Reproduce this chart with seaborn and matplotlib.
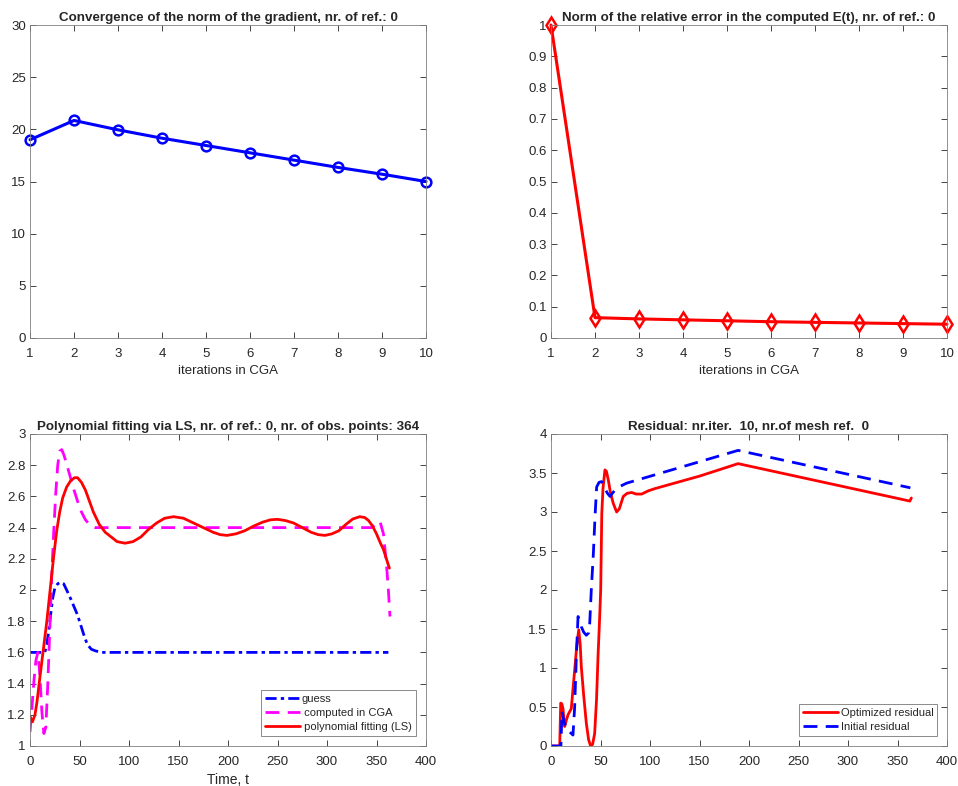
import matplotlib
matplotlib.use("Agg")
import matplotlib.pyplot as plt
import seaborn as sns
from matplotlib.ticker import FormatStrFormatter

# ---------------- data ----------------
iterations = [1, 2, 3, 4, 5, 6, 7, 8, 9, 10]
grad_norm = [19.0, 20.85, 19.95, 19.15, 18.45, 17.75, 17.05, 16.35, 15.7, 15.0]
rel_error = [1.0, 0.065, 0.061, 0.058, 0.055, 0.052, 0.050, 0.048, 0.046, 0.044]

t_guess = [0, 15, 17, 19, 21, 23, 25, 28, 31, 34, 37, 40, 44, 48, 52, 55, 58, 62, 66, 72, 362]
e_guess = [1.6, 1.6, 1.65, 1.74, 1.85, 1.95, 2.01, 2.04, 2.05, 2.04, 2.00, 1.96, 1.90, 1.84,
           1.76, 1.70, 1.65, 1.62, 1.61, 1.60, 1.60]

t_cga = [0, 2, 4, 6, 8, 10, 12, 14, 16, 18, 20, 22, 24, 26, 28, 30, 32, 34, 36, 40, 44, 48,
         52, 56, 60, 66, 100, 150, 200, 250, 300, 345, 350, 353.5, 357, 360, 362, 363.6]
e_cga = [1.09, 1.25, 1.42, 1.55, 1.60, 1.45, 1.22, 1.08, 1.12, 1.40, 1.75, 2.10, 2.38, 2.62,
         2.80, 2.89, 2.90, 2.87, 2.83, 2.74, 2.65, 2.57, 2.50, 2.45, 2.42, 2.40, 2.40, 2.40,
         2.40, 2.40, 2.40, 2.40, 2.42, 2.44, 2.36, 2.17, 2.00, 1.83]

t_fit = [0, 2.5, 5, 7, 10, 13.5, 17, 20, 24, 27, 30, 33, 37, 41, 45, 48, 52, 56, 60, 64, 70,
         76, 82, 88, 96, 104, 112, 120, 128, 136, 145, 155, 165, 175, 185, 192, 199, 208, 217,
         226, 235, 243, 250, 258, 266, 275, 284, 291, 298, 305, 312, 319, 326, 333, 338, 342,
         346, 350, 354, 357, 360, 363]
e_fit = [1.19, 1.155, 1.20, 1.28, 1.44, 1.62, 1.80, 1.98, 2.22, 2.38, 2.50, 2.59, 2.66, 2.70,
         2.72, 2.72, 2.69, 2.64, 2.57, 2.50, 2.42, 2.37, 2.34, 2.31, 2.30, 2.31, 2.34, 2.39,
         2.43, 2.46, 2.47, 2.46, 2.43, 2.40, 2.37, 2.355, 2.35, 2.36, 2.38, 2.41, 2.435, 2.45,
         2.453, 2.445, 2.43, 2.40, 2.37, 2.355, 2.35, 2.36, 2.38, 2.42, 2.455, 2.47, 2.465,
         2.445, 2.41, 2.36, 2.30, 2.26, 2.20, 2.14]

t_opt = [0, 8.8, 9.8, 11, 12.1, 13.8, 15.5, 17.2, 20.5, 22, 23.9, 26, 28, 29.5, 30.6, 33, 35.7,
         38, 40, 42, 44.1, 46, 47.5, 49, 50.2, 51.3, 52.5, 54.5, 56, 57.9, 60, 62.9, 66.3, 69,
         73, 77, 81.5, 86, 91.6, 98, 105, 150, 189, 362.5, 364]
r_opt = [0, 0, 0.55, 0.54, 0.48, 0.25, 0.33, 0.40, 0.48, 0.70, 0.97, 1.28, 1.49, 1.30, 1.02,
         0.65, 0.29, 0.08, 0.0, 0.02, 0.16, 0.60, 1.15, 1.60, 2.00, 2.98, 3.30, 3.54, 3.52,
         3.41, 3.25, 3.11, 3.00, 3.04, 3.20, 3.24, 3.25, 3.23, 3.23, 3.27, 3.30, 3.46, 3.62,
         3.14, 3.18]

t_init = [0, 10, 10.4, 11.1, 12.5, 13.8, 16, 18.9, 22.2, 23.9, 25.6, 27.3, 28.5, 30.6, 33,
          35.7, 38, 39.1, 40.7, 42.8, 44.5, 46.1, 48.5, 51.2, 54.5, 57, 59.6, 62, 64.6, 70,
          76.4, 189, 363]
r_init = [0, 0, 0.16, 0.44, 0.35, 0.29, 0.22, 0.18, 0.14, 0.50, 1.15, 1.66, 1.62, 1.53, 1.46,
          1.42, 1.45, 1.57, 2.00, 2.47, 2.95, 3.32, 3.38, 3.39, 3.30, 3.24, 3.20, 3.24, 3.28,
          3.33, 3.37, 3.79, 3.31]

# ---------------- style ----------------
sns.set_style("ticks")
plt.rcParams["font.family"] = ["Liberation Sans", "DejaVu Sans"]
plt.rcParams["axes.linewidth"] = 0.6

TXT = "#262626"
EDGE = "#808080"
FS = 9.5
TFS = 9.6

fig = plt.figure(figsize=(9.58, 7.86), dpi=100)
W, H = 958.0, 786.0


def make_axes(left, top, right, bottom):
    return fig.add_axes([left / W, 1 - bottom / H, (right - left) / W, (bottom - top) / H])


def dress(ax):
    for s in ax.spines.values():
        s.set_color(EDGE)
        s.set_linewidth(0.6)
        s.set_visible(True)
    ax.tick_params(which="both", direction="in", top=True, right=True, length=4,
                   width=0.6, color=TXT, labelcolor=TXT, labelsize=FS)
    ax.tick_params(axis="x", pad=7)
    ax.tick_params(axis="y", pad=3)
    ax.yaxis.set_major_formatter(FormatStrFormatter("%g"))
    ax.xaxis.set_major_formatter(FormatStrFormatter("%g"))


def style_legend(leg):
    leg.get_frame().set_edgecolor("#555555")
    leg.get_frame().set_linewidth(0.6)


# top left: gradient norm
ax1 = make_axes(30, 25, 426, 338)
sns.lineplot(x=iterations, y=grad_norm, ax=ax1, color="blue", linewidth=2.2,
             marker="o", markersize=7, markerfacecolor="none", markeredgecolor="blue",
             markeredgewidth=1.8, clip_on=False)
ax1.set_xlim(1, 10)
ax1.set_ylim(0, 30)
ax1.set_xticks(range(1, 11))
ax1.set_yticks(range(0, 31, 5))
ax1.set_xlabel("iterations in CGA", fontsize=FS, color=TXT, labelpad=3.5)
ax1.set_ylabel("")
ax1.set_title("Convergence of the norm of the gradient, nr. of ref.: 0",
              fontsize=TFS, fontweight="bold", pad=3)
dress(ax1)

# top right: relative error
ax2 = make_axes(551, 25, 947, 338)
sns.lineplot(x=iterations, y=rel_error, ax=ax2, color="red", linewidth=2.2,
             marker="d", markersize=8, markerfacecolor="none", markeredgecolor="red",
             markeredgewidth=1.8, clip_on=False)
ax2.set_xlim(1, 10)
ax2.set_ylim(0, 1)
ax2.set_xticks(range(1, 11))
ax2.set_yticks([i / 10 for i in range(11)])
ax2.set_xlabel("iterations in CGA", fontsize=FS, color=TXT, labelpad=3.5)
ax2.set_ylabel("")
ax2.set_title("Norm of the relative error in the computed E(t), nr. of ref.: 0",
              fontsize=TFS, fontweight="bold", pad=3)
dress(ax2)

# bottom left: polynomial fitting
ax3 = make_axes(30, 434, 426, 746)
sns.lineplot(x=t_guess, y=e_guess, ax=ax3, color="blue", linewidth=2.0,
             linestyle=(0, (4, 1.5, 1.2, 1.5)), sort=False, estimator=None, label="guess")
sns.lineplot(x=t_cga, y=e_cga, ax=ax3, color="magenta", linewidth=2.0,
             linestyle=(0, (5, 3)), sort=False, estimator=None, label=" computed in CGA")
sns.lineplot(x=t_fit, y=e_fit, ax=ax3, color="red", linewidth=2.0,
             sort=False, estimator=None, label=" polynomial fitting (LS)")
ax3.set_xlim(0, 400)
ax3.set_ylim(1, 3)
ax3.set_xticks(range(0, 401, 50))
ax3.set_yticks([1 + 0.2 * i for i in range(11)])
ax3.set_xlabel("Time, t", fontsize=FS + 0.5, color=TXT, labelpad=3.5)
ax3.set_ylabel("")
ax3.set_title("Polynomial fitting via LS, nr. of ref.: 0, nr. of obs. points: 364",
              fontsize=TFS, fontweight="bold", pad=3)
dress(ax3)
leg3 = ax3.legend(loc="lower right", bbox_to_anchor=(0.975, 0.032), borderaxespad=0,
                  fontsize=8, frameon=True, fancybox=False, handlelength=3.2,
                  handletextpad=0.1, labelspacing=0.35, borderpad=0.35)
style_legend(leg3)

# bottom right: residuals
ax4 = make_axes(551, 434, 947, 746)
sns.lineplot(x=t_opt, y=r_opt, ax=ax4, color="red", linewidth=2.0,
             sort=False, estimator=None, label="Optimized residual")
sns.lineplot(x=t_init, y=r_init, ax=ax4, color="blue", linewidth=2.0,
             linestyle=(0, (5, 3)), sort=False, estimator=None, label="Initial residual")
ax4.set_xlim(0, 400)
ax4.set_ylim(0, 4)
ax4.set_xticks(range(0, 401, 50))
ax4.set_yticks([0.5 * i for i in range(9)])
ax4.set_xlabel("")
ax4.set_ylabel("")
ax4.set_title("Residual: nr.iter.  10, nr.of mesh ref.  0",
              fontsize=TFS, fontweight="bold", pad=3)
dress(ax4)
leg4 = ax4.legend(loc="lower right", bbox_to_anchor=(0.9755, 0.032), borderaxespad=0,
                  fontsize=8, frameon=True, fancybox=False, handlelength=3.2,
                  handletextpad=0.2, labelspacing=0.35, borderpad=0.35)
style_legend(leg4)

fig.savefig("out.png", dpi=100, facecolor="white")
